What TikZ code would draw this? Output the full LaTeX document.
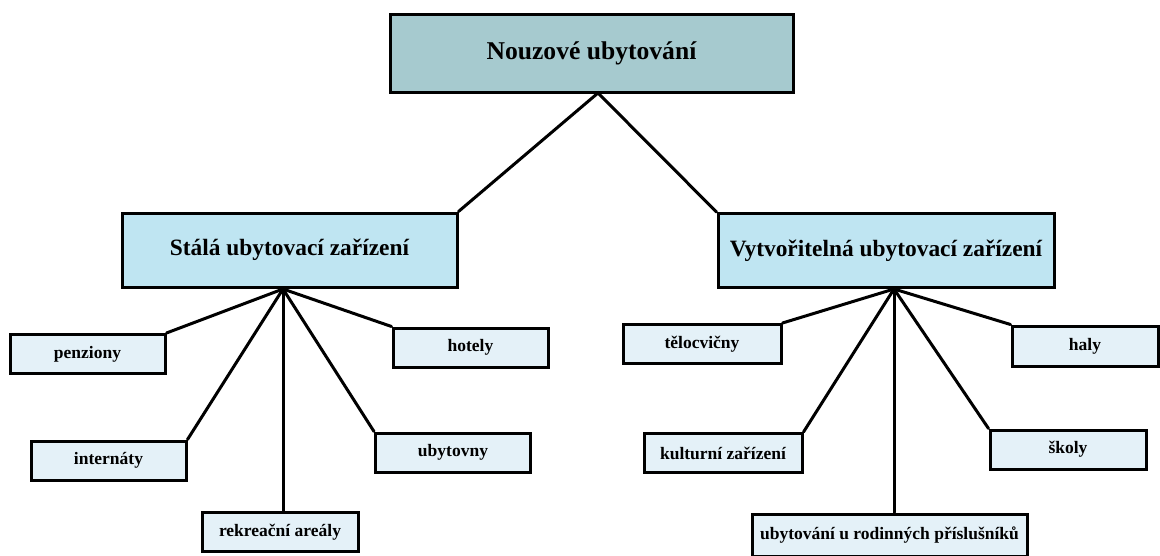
\documentclass[tikz,border=0pt]{standalone}
\usepackage{fontspec}
\setmainfont{Liberation Serif}
\definecolor{rootfill}{RGB}{166,202,207}
\definecolor{groupfill}{RGB}{191,229,242}
\definecolor{leaffill}{RGB}{228,241,248}

\begin{document}
\begin{tikzpicture}[x=1pt,y=-1pt,
  box/.style={draw,line width=3pt,inner sep=0pt,align=center},
  root/.style={box,fill=rootfill,minimum width=403pt,minimum height=78pt,
    font=\fontsize{25.6}{30}\selectfont\bfseries},
  group/.style={box,fill=groupfill,minimum width=335pt,minimum height=74pt,
    font=\fontsize{23.4}{28}\selectfont\bfseries},
  leaf/.style={box,fill=leaffill,minimum width=155pt,minimum height=39pt,
    font=\fontsize{17.5}{21}\selectfont\bfseries},
  link/.style={line width=3pt,line cap=round}]
  \useasboundingbox (0,0) rectangle (1160,555);

  % hlavni uzel
  \node[root] (nouz) at (591.5,53) {Nouzové ubytování};
  \coordinate (nouzhub) at (598,93);

  % dve skupiny
  \node[group] (stala) at (289.5,250) {Stálá ubytovací zařízení};
  \node[group,minimum width=336pt] (vytv) at (886,250.5) {Vytvořitelná ubytovací zařízení};
  \coordinate (stalahub) at (283,289);
  \coordinate (vytvhub) at (894,289);

  % stala zarizeni
  \node[leaf] (penz) at (87.5,354) {penziony};
  \node[leaf] (intr) at (108.5,460.5) {internáty};
  \node[leaf,minimum width=156pt] (rekr) at (280,532) {rekreační areály};
  \node[leaf] (hotl) at (470.5,347.5) {hotely};
  \node[leaf] (ubyt) at (453,452.5) {ubytovny};

  % vytvoritelna zarizeni
  \node[leaf,minimum width=158pt] (telo) at (702,344) {tělocvičny};
  \node[leaf,minimum width=158pt] (kult) at (723,453) {kulturní zařízení};
  \node[leaf,minimum width=275pt,minimum height=42pt] (rodi) at (889.5,535) {ubytování u rodinných příslušníků};
  \node[leaf,minimum width=146pt,minimum height=40pt] (haly) at (1085,346) {haly};
  \node[leaf,minimum width=156pt] (skol) at (1068,449.5) {školy};

  \draw[link] (stala.north east) -- (nouzhub) -- (vytv.north west);
  \foreach \n/\a in {penz/north east,intr/north east,ubyt/north west,hotl/north west}
    \draw[link] (stalahub) -- (\n.\a);
  \draw[link] (stalahub) -- (stalahub |- rekr.north);
  \foreach \n/\a in {telo/north east,kult/north east,skol/north west,haly/north west}
    \draw[link] (vytvhub) -- (\n.\a);
  \draw[link] (vytvhub) -- (vytvhub |- rodi.north);
\end{tikzpicture}
\end{document}
